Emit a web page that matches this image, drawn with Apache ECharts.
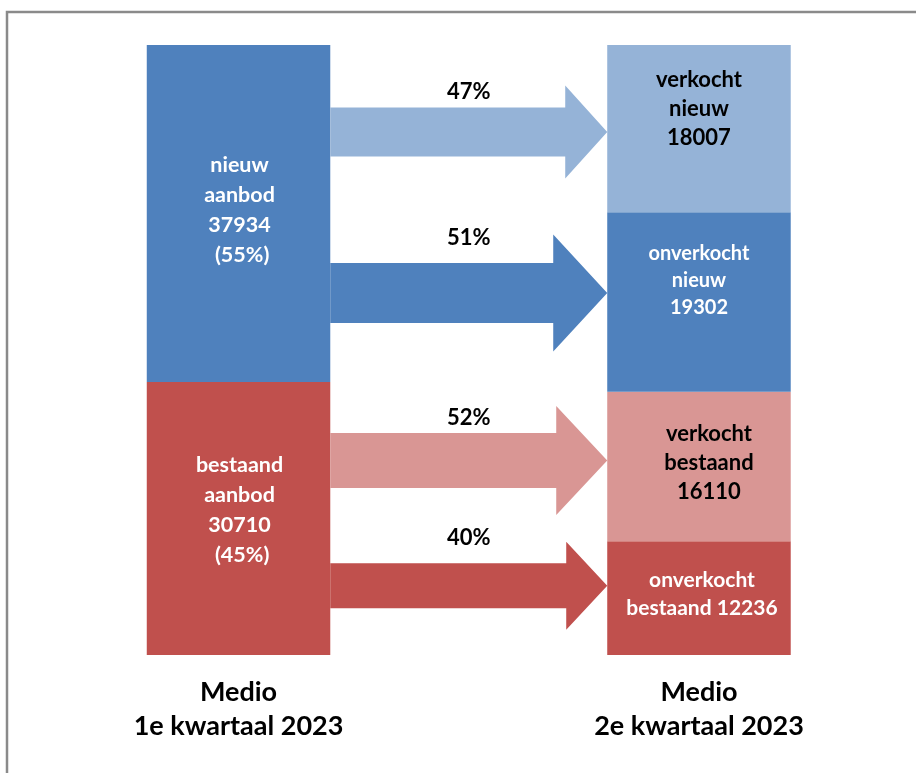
<!DOCTYPE html>
<html><head><meta charset="utf-8">
<script src="https://cdn.jsdelivr.net/npm/echarts@6/dist/echarts.min.js"></script>
<style>html,body{margin:0;padding:0;background:#fff}#c{width:916px;height:773px}</style>
</head><body><div id="c"></div>
<script>
// ---- data ----
const periods = ['Medio\n1e kwartaal 2023', '', 'Medio\n2e kwartaal 2023'];
const leftNames = ['nieuw aanbod', 'bestaand aanbod'];
const leftValues = [37934, 30710];
const leftShares = ['55%', '45%'];
const rightNames = ['verkocht nieuw', 'onverkocht nieuw', 'verkocht bestaand', 'onverkocht bestaand'];
const rightValues = [18007, 19302, 16110, 12236];
const flowPercent = [47, 51, 52, 40];

// ---- styles / layout ----
const FONT = 'Lato';
const barW = 183.5;
const leftStyle = [
  {color: '#4F81BD', text: '#fff', offset: [1, -3], fs: 21.5, lh: 30},
  {color: '#C0504D', text: '#fff', offset: [1, -8], fs: 21.5, lh: 30}
];
const rightStyle = [
  {color: '#95B3D7', text: '#000', pos: 'insideTop', dist: 20, offset: [0, 0], fs: 22, lh: 29},
  {color: '#4F81BD', text: '#fff', pos: 'insideTop', dist: 28, offset: [0, 0], fs: 20, lh: 27},
  {color: '#D99694', text: '#000', pos: 'inside', offset: [10, -4], fs: 22, lh: 29},
  {color: '#C0504D', text: '#fff', pos: 'inside', offset: [3, -4], fs: 21, lh: 28}
];
const arrowColors = ['#95B3D7', '#4F81BD', '#D99694', '#C0504D'];
const arrowLayout = [
  {frac: 0.52, shaft: 49, head: 93, headLen: 42, labelGap: 16},
  {frac: 0.45, shaft: 60, head: 117, headLen: 54, labelGap: 25},
  {frac: 0.46, shaft: 55, head: 109, headLen: 51, labelGap: 15},
  {frac: 0.39, shaft: 45, head: 88, headLen: 41, labelGap: 25}
];

const leftTotal = leftValues.reduce((a, b) => a + b, 0);
const rightTotal = rightValues.reduce((a, b) => a + b, 0);

const series = [];
// left bar: bottom first
for (let i = leftNames.length - 1; i >= 0; i--) {
  const st = leftStyle[i];
  const parts = leftNames[i].split(' ');
  series.push({
    type: 'bar', name: leftNames[i], stack: 'L', yAxisIndex: 0, barWidth: barW, barGap: '-100%',
    data: [leftValues[i], '-', '-'],
    itemStyle: {color: st.color},
    label: {
      show: true, position: 'inside', offset: st.offset, color: st.text,
      fontFamily: FONT, fontWeight: 'bold', fontSize: st.fs, lineHeight: st.lh,
      formatter: parts.join('\n') + '\n' + leftValues[i] + '\n (' + leftShares[i] + ')'
    }
  });
}
// right bar: bottom first
for (let i = rightNames.length - 1; i >= 0; i--) {
  const st = rightStyle[i];
  const parts = rightNames[i].split(' ');
  const txt = (i === rightNames.length - 1)
    ? parts[0] + '\n' + parts[1] + ' ' + rightValues[i]
    : parts.join('\n') + '\n' + rightValues[i];
  series.push({
    type: 'bar', name: rightNames[i], stack: 'R', yAxisIndex: 1, barWidth: barW, barGap: '-100%',
    data: ['-', '-', rightValues[i]],
    itemStyle: {color: st.color},
    label: {
      show: true, position: st.pos, distance: st.dist || 5, offset: st.offset, color: st.text,
      fontFamily: FONT, fontWeight: 'bold', fontSize: st.fs, lineHeight: st.lh, align: 'center',
      formatter: txt
    }
  });
}

// arrows: from left bar to target segment on right bar
const arrowData = [];
for (let i = 0; i < flowPercent.length; i++) {
  let low = 0;
  for (let j = i + 1; j < rightValues.length; j++) low += rightValues[j];
  arrowData.push([1, low, low + rightValues[i], flowPercent[i]]);
}
series.push({
  type: 'custom', name: 'stromen', yAxisIndex: 1, clip: false, z: 5,
  data: arrowData,
  renderItem: function (params, api) {
    const i = params.dataIndex;
    const L = arrowLayout[i];
    const yTop = api.coord([1, api.value(2)])[1];
    const yBot = api.coord([1, api.value(1)])[1];
    const cy = yTop + L.frac * (yBot - yTop);
    const x0 = api.coord([0, 0])[0] + barW / 2;
    const x1 = api.coord([2, 0])[0] - barW / 2;
    const hx = x1 - L.headLen;
    const s = L.shaft / 2, h = L.head / 2;
    return {
      type: 'group', children: [
        {type: 'polygon', shape: {points: [[x0, cy - s], [hx, cy - s], [hx, cy - h], [x1, cy], [hx, cy + h], [hx, cy + s], [x0, cy + s]]},
          style: {fill: arrowColors[i]}},
        {type: 'text', style: {text: api.value(3) + '%', x: (x0 + x1) / 2, y: cy - s - L.labelGap,
          align: 'center', verticalAlign: 'middle', fontFamily: FONT, fontWeight: 'bold', fontSize: 22, fill: '#000'}}
      ]
    };
  }
});

const chart = echarts.init(document.getElementById('c'), null, {renderer: 'canvas'});
chart.setOption({
  animation: false,
  backgroundColor: '#fff',
  grid: {left: 123.4, right: 101.9, top: 45, bottom: 118, containLabel: false},
  xAxis: {
    type: 'category', data: periods,
    axisLine: {show: false}, axisTick: {show: false}, splitLine: {show: false},
    axisLabel: {color: '#000', fontFamily: FONT, fontWeight: 'bold', fontSize: 27, lineHeight: 34, margin: 20, interval: 0}
  },
  yAxis: [
    {type: 'value', min: 0, max: leftTotal, show: false, splitLine: {show: false}},
    {type: 'value', min: 0, max: rightTotal, show: false, splitLine: {show: false}}
  ],
  graphic: [
    {type: 'rect', silent: true, z: 100, shape: {x: 7, y: 12, width: 1200, height: 1200},
      style: {fill: null, stroke: '#8a8a8a', lineWidth: 2.5}}
  ],
  series: series
});
</script></body></html>
